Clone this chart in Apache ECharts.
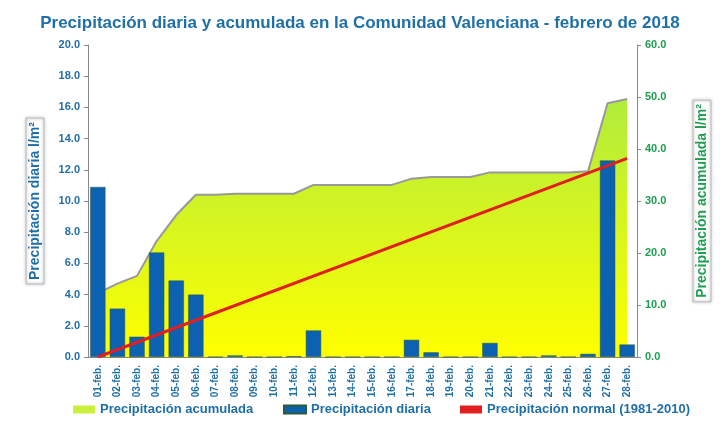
<!DOCTYPE html>
<html><head><meta charset="utf-8">
<script src="https://cdn.jsdelivr.net/npm/echarts@6/dist/echarts.min.js"></script>
<style>html,body{margin:0;background:#fff}#c{width:720px;height:427px}</style>
</head><body><div id="c"></div>
<script>
var days = ['01-feb.','02-feb.','03-feb.','04-feb.','05-feb.','06-feb.','07-feb.','08-feb.','09-feb.','10-feb.','11-feb.','12-feb.','13-feb.','14-feb.','15-feb.','16-feb.','17-feb.','18-feb.','19-feb.','20-feb.','21-feb.','22-feb.','23-feb.','24-feb.','25-feb.','26-feb.','27-feb.','28-feb.'];
var diaria = [10.9,3.1,1.3,6.7,4.9,4.0,0,0.1,0,0,0.05,1.7,0,0,0,0,1.1,0.3,0,0,0.9,0,0,0.1,0,0.2,12.6,0.8];
var acumulada = [12.3,14.1,15.6,22.3,27.3,31.2,31.2,31.4,31.4,31.4,31.4,33.1,33.1,33.1,33.1,33.1,34.3,34.6,34.6,34.6,35.5,35.5,35.5,35.5,35.5,35.7,48.8,49.6];
var normal = [0,null,null,null,null,null,null,null,null,null,null,null,null,null,null,null,null,null,null,null,null,null,null,null,null,null,null,38.2];
var c = echarts.init(document.getElementById('c'));
var lab = {fontFamily:'Liberation Sans',fontWeight:'bold',fontSize:11};
var lts = {color:'#1f6fa8',fontFamily:'Liberation Sans',fontWeight:'bold',fontSize:13};
function lg(name,left){return {bottom:6,left:left,itemWidth:22,itemHeight:8,textStyle:lts,data:[{name:name,icon:'rect'}]};}
c.setOption({
  animation:false,
  title:{text:'Precipitación diaria y acumulada en la Comunidad Valenciana - febrero de 2018',left:'center',top:10,
    textStyle:{color:'#1f6fa8',fontFamily:'Liberation Sans',fontWeight:'bold',fontSize:17}},
  legend:[lg('Precipitación acumulada',68),lg('Precipitación diaria',278),lg('Precipitación normal (1981-2010)',455)],
  grid:{left:88,right:83,top:45,bottom:70},
  xAxis:{type:'category',data:days,boundaryGap:true,
    axisLine:{lineStyle:{color:'#888'}},axisTick:{show:false},
    axisLabel:{rotate:90,color:'#1f6fa8',fontSize:10,interval:0,fontFamily:'Liberation Sans',fontWeight:'bold'}},
  yAxis:[
    {type:'value',min:0,max:20,interval:2,name:'Precipitación diaria l/m²',nameLocation:'middle',nameGap:44,
     nameTextStyle:{color:'#1f6fa8',fontFamily:'Liberation Sans',fontWeight:'bold',fontSize:14,borderColor:'#bbb',borderWidth:1,padding:[2,4],shadowColor:'#999',shadowBlur:3},
     axisLine:{show:true,lineStyle:{color:'#888'}},axisTick:{show:true,length:4},splitLine:{show:false},
     axisLabel:Object.assign({color:'#1f6fa8',formatter:function(v){return v.toFixed(1)}},lab)},
    {type:'value',min:0,max:60,interval:10,name:'Precipitación acumulada l/m²',nameLocation:'middle',nameGap:56,nameRotate:90,
     nameTextStyle:{color:'#1fa050',fontFamily:'Liberation Sans',fontWeight:'bold',fontSize:14,borderColor:'#bbb',borderWidth:1,padding:[2,4],shadowColor:'#999',shadowBlur:3},
     axisLine:{show:true,lineStyle:{color:'#888'}},axisTick:{show:true,length:4},splitLine:{show:false},
     axisLabel:Object.assign({color:'#1fa050',formatter:function(v){return v.toFixed(1)}},lab)}
  ],
  series:[
    {name:'Precipitación acumulada',type:'line',yAxisIndex:1,data:acumulada,symbol:'none',z:1,
     itemStyle:{color:'#c8f03c'},lineStyle:{color:'#999',width:2},
     areaStyle:{opacity:1,color:new echarts.graphic.LinearGradient(0,0,0,1,[{offset:0,color:'#b0ec3c'},{offset:1,color:'#ffff00'}])}},
    {name:'Precipitación diaria',type:'bar',yAxisIndex:0,data:diaria,barWidth:'78%',z:2,
     itemStyle:{color:'#0c62b0',borderColor:'#2a5a3a',borderWidth:0.5}},
    {name:'Precipitación normal (1981-2010)',type:'line',yAxisIndex:1,data:normal,connectNulls:true,symbol:'none',z:3,
     itemStyle:{color:'#e02020'},lineStyle:{color:'#e02020',width:3}}
  ]
});
</script></body></html>
